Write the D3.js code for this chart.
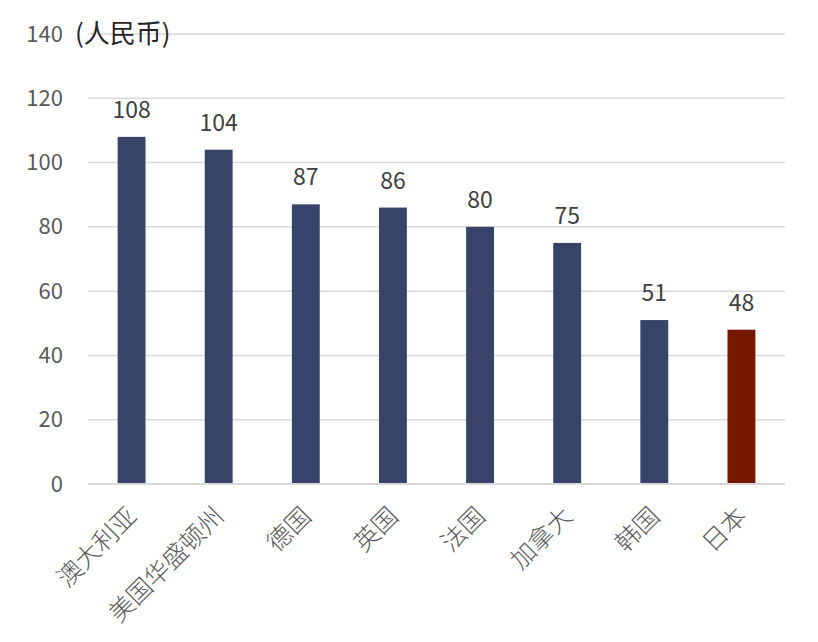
<!DOCTYPE html>
<html><head><meta charset="utf-8">
<script src="https://cdn.jsdelivr.net/npm/d3@7"></script>
<style>body{margin:0;background:#fff}</style>
</head><body>
<svg id="c" width="818" height="642"></svg>
<script>
const categories = ["澳大利亚","美国华盛顿州","德国","英国","法国","加拿大","韩国","日本"];
const values = [108,104,87,86,80,75,51,48];
const barColors = ["#374369","#374369","#374369","#374369","#374369","#374369","#374369","#761800"];
const yTicks = [0,20,40,60,80,100,120,140];
const unitLabel = "(人民币)";

const svg = d3.select("#c");
const font = "'Noto Sans CJK SC', 'Noto Sans', sans-serif";
const m = {left:88, right:818-785, top:34, bottom:642-484};
const W = 818, H = 642;
const x = d3.scaleBand().domain(categories).range([m.left, W-m.right]).paddingInner(0.68).paddingOuter(0.34);
const y = d3.scaleLinear().domain([0,140]).range([H-m.bottom, m.top]);

// gridlines
svg.append("g").selectAll("line").data(yTicks.filter(d=>d>0)).join("line")
  .attr("x1", m.left).attr("x2", W-m.right)
  .attr("y1", d=>y(d)).attr("y2", d=>y(d))
  .attr("stroke","#d9d9d9").attr("stroke-width",1.5);

// y axis labels
const ya = svg.append("g").attr("transform",`translate(${m.left-25},0)`)
  .call(d3.axisLeft(y).tickValues(yTicks).tickSize(0).tickPadding(0));
ya.select(".domain").remove();
ya.selectAll("text").attr("font-family",font).attr("font-size",22).attr("fill","#595959");

svg.append("text").attr("x",75).attr("y",y(140)).attr("dy","0.35em")
  .attr("font-family",font).attr("font-size",26).attr("fill","#262626").text(unitLabel);

// bars
svg.append("g").selectAll("rect").data(values).join("rect")
  .attr("x",(d,i)=>x(categories[i])).attr("width",x.bandwidth())
  .attr("y",d=>y(d)).attr("height",d=>y(0)-y(d))
  .attr("fill",(d,i)=>barColors[i]);

// value labels
svg.append("g").selectAll("text").data(values).join("text")
  .attr("x",(d,i)=>x(categories[i])+x.bandwidth()/2).attr("y",d=>y(d)-19)
  .attr("text-anchor","middle").attr("font-family",font).attr("font-size",23).attr("fill","#404040")
  .text(d=>d);

// x axis
const xa = svg.append("g").attr("transform",`translate(0,${y(0)})`)
  .call(d3.axisBottom(x).tickSize(0).tickPadding(0));
xa.select(".domain").attr("stroke","#d9d9d9").attr("stroke-width",2)
  .attr("d",`M${m.left},0H${W-m.right}`);
xa.selectAll("text").attr("font-family",font).attr("font-size",25).attr("font-weight",300).attr("fill","#595959")
  .attr("text-anchor","end").attr("dy",null).attr("dominant-baseline","middle")
  .attr("transform","translate(2,29) rotate(-45)");
</script>
</body></html>
